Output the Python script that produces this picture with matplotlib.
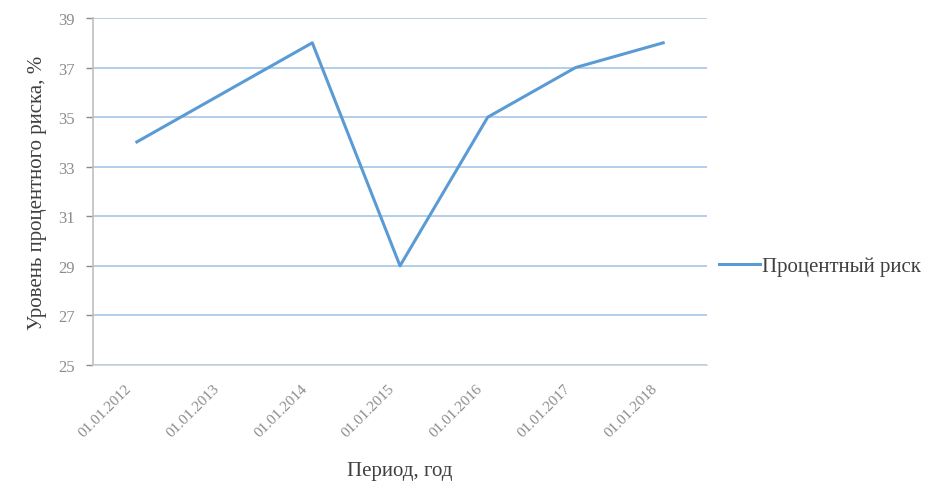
import matplotlib.pyplot as plt
import matplotlib.transforms as mtransforms

# данные графика
periods = ['01.01.2012', '01.01.2013', '01.01.2014', '01.01.2015',
           '01.01.2016', '01.01.2017', '01.01.2018']
risk = [34, 36, 38, 29, 35, 37, 38]
y_ticks = [25, 27, 29, 31, 33, 35, 37, 39]

plt.rcParams['font.family'] = ['Liberation Serif', 'DejaVu Serif']

fig = plt.figure(figsize=(9.44, 4.85), dpi=100)
ax = fig.add_axes([0.0985, 0.2454, 0.6505, 0.7154])

x = list(range(len(periods)))
ax.plot(x, risk, color='#5B9BD5', linewidth=2.2, label='Процентный риск', zorder=3)

ax.set_xlim(-0.5, len(periods) - 0.5)
ax.set_ylim(25, 39)
ax.set_yticks(y_ticks)
ax.set_xticks(x)
ax.set_xticklabels(periods, rotation=45, ha='right', va='top',
                   rotation_mode='anchor', color='#8C8C8C', fontsize=11)
ax.tick_params(axis='y', colors='#8C8C8C', labelsize=12, length=5, width=1, pad=8)
ax.tick_params(axis='x', length=0, pad=12)
for lbl in ax.get_yticklabels():
    lbl.set_color('#8C8C8C')

# подписи дат немного левее делений
shift = mtransforms.ScaledTranslation(-12 / 100, 0, fig.dpi_scale_trans)
for lbl in ax.get_xticklabels():
    lbl.set_transform(lbl.get_transform() + shift)

ax.grid(axis='y', color='#A6C6E6', linewidth=1.2, zorder=0)
ax.set_axisbelow(True)
for s in ['top', 'right']:
    ax.spines[s].set_visible(False)
ax.spines['left'].set_color('#BFBFBF')
ax.spines['left'].set_linewidth(1.2)
ax.spines['bottom'].set_color('#D9D9D9')

ax.set_ylabel('Уровень процентного риска, %', fontsize=15, color='#404040', labelpad=8)
ax.set_xlabel('Период, год', fontsize=15, color='#404040', labelpad=16)

ax.legend(loc='center left', bbox_to_anchor=(0.9885, 0.285), frameon=False,
          fontsize=15, handlelength=2.0, handletextpad=0.1, labelcolor='#404040')

plt.savefig('out.png', dpi=100)
